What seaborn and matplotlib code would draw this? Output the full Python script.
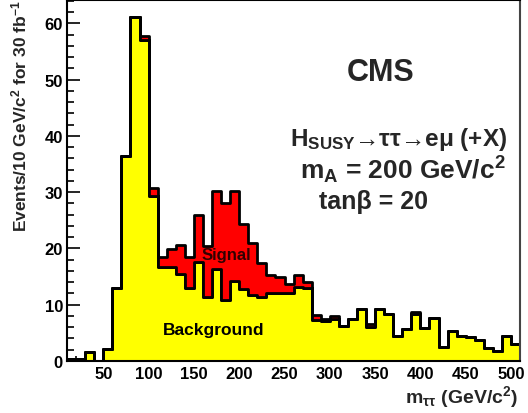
import numpy as np
import pandas as pd
import matplotlib
matplotlib.use("Agg")
import matplotlib.pyplot as plt
from matplotlib.ticker import MultipleLocator
import seaborn as sns

# m_tautau bins, 10 GeV wide from 10 to 510
edges = list(range(10, 520, 10))
centers = [e + 5 for e in edges[:-1]]

# events per bin
background = [0.4, 0.4, 1.6, 0.0, 2.1, 13.0, 36.5, 61.2, 57.0, 29.3,
              16.6, 16.6, 15.5, 13.0, 17.5, 11.4, 16.3, 10.8, 14.2, 12.7,
              11.7, 11.4, 12.0, 12.0, 12.0, 13.2, 12.9, 7.3, 7.0, 7.4,
              6.2, 7.4, 9.3, 6.1, 9.2, 8.4, 4.4, 5.6, 8.3, 5.9,
              7.7, 2.5, 5.3, 4.4, 4.2, 3.7, 2.3, 1.7, 4.4, 3.0]
signal = [0, 0, 0, 0, 0, 0, 0, 0, 0.7, 1.5,
          1.9, 3.2, 5.1, 5.5, 8.4, 9.1, 13.9, 17.3, 16.0, 11.6,
          9.3, 6.0, 3.3, 2.9, 1.6, 2.0, 1.1, 0.8, 0.5, 0.5,
          0, 0, 0, 0.5, 0, 0, 0, 0, 0.4, 0,
          0, 0, 0, 0, 0, 0, 0, 0, 0, 0]

df = pd.DataFrame({
    "mass": centers + centers,
    "events": background + signal,
    "process": ["Background"] * len(centers) + ["Signal"] * len(centers),
})

sns.set_style("ticks")
plt.rcParams["font.family"] = ["Liberation Sans", "DejaVu Sans"]
plt.rcParams["font.weight"] = "bold"
plt.rcParams["mathtext.fontset"] = "custom"
plt.rcParams["mathtext.rm"] = "Liberation Sans:bold"
plt.rcParams["mathtext.it"] = "Liberation Sans:bold"
plt.rcParams["mathtext.bf"] = "Liberation Sans:bold"

fig, ax = plt.subplots(figsize=(5.28, 4.14), dpi=100)
fig.subplots_adjust(left=0.127, right=0.985, bottom=0.126, top=0.998)

sns.histplot(data=df, x="mass", weights="events", hue="process",
             hue_order=["Signal", "Background"], multiple="stack",
             bins=edges, element="step",
             palette={"Background": "#ffff00", "Signal": "#ff0000"},
             edgecolor="black", linewidth=2, alpha=1, legend=False, ax=ax)

ax.set_xlim(10, 510)
ax.set_ylim(0, 64.2)
ax.xaxis.set_major_locator(MultipleLocator(50))
ax.xaxis.set_minor_locator(MultipleLocator(10))
ax.yaxis.set_major_locator(MultipleLocator(10))
ax.yaxis.set_minor_locator(MultipleLocator(2))
ax.tick_params(which="both", direction="in", colors="black", width=1.2)
ax.tick_params(axis="y", which="major", length=9.5, pad=3, labelsize=12)
ax.tick_params(axis="y", which="minor", length=5)
ax.tick_params(axis="x", which="major", length=7, pad=4, labelsize=12)
ax.tick_params(axis="x", which="minor", length=3.5)
for s in ax.spines.values():
    s.set_color("black")
    s.set_linewidth(1.5)
ax.spines["right"].set_color("#444444")
ax.set_xlabel("")
ax.set_ylabel("")

fig.text(518 / 528, 1 - 403 / 414, r"m$_{\mathrm{ττ}}$ (GeV/c$^{2}$)",
         ha="right", va="baseline", fontsize=14, fontweight="bold")
fig.text(19 / 528, 1.0, r"Events/10 GeV/c$^{2}$ for 30 fb$^{-1}$",
         rotation=90, ha="center", va="top", fontsize=12.5, fontweight="bold")

ax.text(355.8, 51.3, "CMS", ha="center", va="center", fontsize=22, fontweight="bold")
ax.text(375.6, 38.3, r"H$_{\mathrm{SUSY}}$→ττ→eμ (+X)",
        ha="center", va="baseline", fontsize=17.5, fontweight="bold")
ax.text(380.6, 32.4, r"m$_{\mathrm{A}}$ = 200 GeV/c$^{2}$", ha="center", va="baseline",
        fontsize=19, fontweight="bold")
ax.text(348.6, 27.1, "tanβ = 20", ha="center", va="baseline", fontsize=18,
        fontweight="bold")
ax.text(186, 18.9, "Signal", ha="center", va="center", fontsize=12,
        fontweight="bold", color="#300000")
ax.text(171.7, 5.5, "Background", ha="center", va="center", fontsize=12.5,
        fontweight="bold", color="black")

fig.savefig("out.png", dpi=100)
